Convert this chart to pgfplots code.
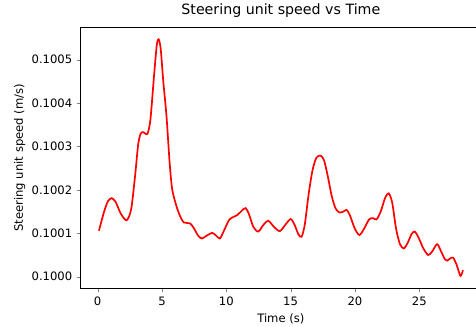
\documentclass[border=0pt]{standalone}
\usepackage{pgfplots}
\pgfplotsset{compat=1.18}
\usepackage{fontspec}
\setmainfont{DejaVu Sans}
\begin{document}
\fontsize{11.6bp}{14bp}\selectfont
\begin{tikzpicture}
\begin{axis}[
  at={(80.7bp,38.7bp)}, anchor=south west,
  scale only axis, width=400.3bp, height=261bp,
  xmin=-1.32, xmax=29.8, ymin=0.0999733, ymax=0.1005746,
  every axis/.append style={line width=0.9bp},
  tick align=outside, major tick length=4bp,
  xtick pos=bottom, ytick pos=left,
  xtick={0,5,10,15,20,25},
  xticklabels={0,5,10,15,20,25},
  ytick={0.1,0.1001,0.1002,0.1003,0.1004,0.1005},
  yticklabels={0.1000,0.1001,0.1002,0.1003,0.1004,0.1005},
  scaled y ticks=false,
  xticklabel style={inner sep=0pt, anchor=north, yshift=-4bp},
  yticklabel style={inner sep=0pt, anchor=east, xshift=-4bp},
  title={Steering unit speed vs Time},
  title style={at={(0.5,1)}, anchor=base, yshift=6.8bp, inner sep=0pt,
    font=\fontsize{14.2bp}{16bp}\selectfont},
  xlabel={Time (s)},
  ylabel={Steering unit speed (m/s)},
  every axis x label/.style={at={(0.5,0)}, anchor=base, yshift=-34bp, inner sep=0pt},
  every axis y label/.style={at={(0,0.5)}, xshift=-61bp, rotate=90, anchor=center, inner sep=0pt},
  clip=false,
]
\addplot[red, line width=1.7bp, smooth, tension=0.45] coordinates {
(0.1,0.100106)
(0.5,0.100150)
(0.8,0.100174)
(1.09,0.100181)
(1.4,0.100172)
(1.8,0.100145)
(2.25,0.100130)
(2.6,0.100155)
(2.9,0.100230)
(3.15,0.100305)
(3.35,0.100330)
(3.55,0.100333)
(3.86,0.100329)
(4.1,0.100362)
(4.4,0.100470)
(4.6,0.100535)
(4.74,0.100547)
(4.9,0.100525)
(5.1,0.100450)
(5.35,0.100370)
(5.6,0.100260)
(5.8,0.100200)
(6.14,0.100161)
(6.4,0.100140)
(6.7,0.100125)
(7.17,0.100123)
(7.45,0.100113)
(7.8,0.100095)
(8.1,0.100088)
(8.5,0.100095)
(8.9,0.100101)
(9.2,0.100095)
(9.5,0.100088)
(9.8,0.100105)
(10.2,0.100130)
(10.5,0.100137)
(10.85,0.100142)
(11.2,0.100152)
(11.5,0.100158)
(11.75,0.100145)
(12.1,0.100115)
(12.48,0.100104)
(12.9,0.100120)
(13.26,0.100129)
(13.7,0.100115)
(14.16,0.100105)
(14.6,0.100120)
(15.0,0.100133)
(15.3,0.100120)
(15.6,0.100098)
(15.85,0.100092)
(16.1,0.100120)
(16.4,0.100190)
(16.7,0.100245)
(17.0,0.100274)
(17.33,0.100279)
(17.6,0.100268)
(17.9,0.100230)
(18.2,0.100185)
(18.5,0.100157)
(18.8,0.100148)
(19.1,0.100150)
(19.35,0.100154)
(19.6,0.100142)
(20.0,0.100110)
(20.35,0.100096)
(20.7,0.100110)
(21.1,0.100132)
(21.4,0.100135)
(21.68,0.100132)
(22.0,0.100150)
(22.35,0.100182)
(22.63,0.100192)
(22.9,0.100170)
(23.2,0.100110)
(23.5,0.100075)
(23.8,0.100065)
(24.1,0.100078)
(24.4,0.100098)
(24.65,0.100104)
(24.95,0.100090)
(25.3,0.100066)
(25.69,0.100050)
(26.0,0.100058)
(26.39,0.100075)
(26.7,0.100058)
(27.0,0.100040)
(27.17,0.100037)
(27.4,0.100042)
(27.63,0.100044)
(27.9,0.100028)
(28.2,0.100002)
(28.4,0.100015)
};
\end{axis}
\pgfresetboundingbox
\path[use as bounding box] (0,0) rectangle (476bp,327bp);
\end{tikzpicture}
\end{document}
